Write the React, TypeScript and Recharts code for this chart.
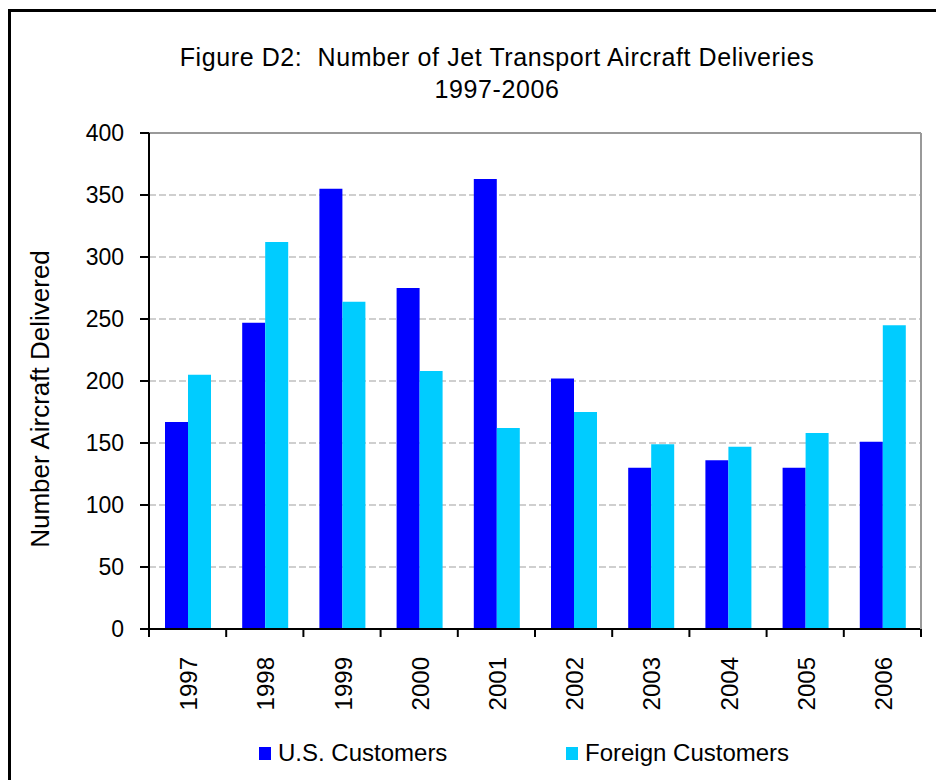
import React from 'react'
import { BarChart, Bar, XAxis, YAxis, CartesianGrid, Legend, ReferenceLine } from 'recharts'

const YEARS = ['1997', '1998', '1999', '2000', '2001', '2002', '2003', '2004', '2005', '2006']
const US_CUSTOMERS = [167, 247, 355, 275, 363, 202, 130, 136, 130, 151]
const FOREIGN_CUSTOMERS = [205, 312, 264, 208, 162, 175, 149, 147, 158, 245]
const Y_TICKS = [0, 50, 100, 150, 200, 250, 300, 350, 400]
const SERIES_NAMES = ['U.S. Customers', 'Foreign Customers']

const data = YEARS.map((year, i) => ({
  year,
  us: US_CUSTOMERS[i],
  foreign: FOREIGN_CUSTOMERS[i],
}))

const FONT = '"Liberation Sans", Arial, sans-serif'
const X_TICK_SIZE = 8
const X_TICK_GAP = 20
const LEGEND_LEFT = [259, 566]

// category ticks sit on band edges, labels rotated in the middle of the band
function YearTick(props: any) {
  const { x, y, payload } = props
  const half = payload.offset ?? 38.6
  const axisY = y - X_TICK_SIZE - X_TICK_GAP
  const last = payload.value === YEARS[YEARS.length - 1]
  return (
    <g>
      <line x1={x - half} x2={x - half} y1={axisY} y2={axisY + X_TICK_SIZE} stroke="#000" strokeWidth={2} />
      {last && (
        <line x1={x + half} x2={x + half} y1={axisY} y2={axisY + X_TICK_SIZE} stroke="#000" strokeWidth={2} />
      )}
      <text
        transform={`translate(${x + 1},${y}) rotate(-90)`}
        textAnchor="end"
        dominantBaseline="central"
        fontSize={24}
        fill="#000"
      >
        {payload.value}
      </text>
    </g>
  )
}

function YLabel(props: any) {
  const { viewBox } = props
  const cx = viewBox.x + 40
  const cy = viewBox.y + viewBox.height / 2 + 18
  return (
    <text
      transform={`translate(${cx},${cy}) rotate(-90)`}
      textAnchor="middle"
      dominantBaseline="central"
      fontSize={26}
      fill="#000"
    >
      Number Aircraft Delivered
    </text>
  )
}

function LegendContent(props: any) {
  const items = [...(props.payload || [])].sort(
    (a: any, b: any) => SERIES_NAMES.indexOf(a.value) - SERIES_NAMES.indexOf(b.value)
  )
  return (
    <div style={{ position: 'relative', height: 30, fontFamily: FONT, fontSize: 24, color: '#000' }}>
      {items.map((item: any, i: number) => (
        <div
          key={item.value}
          style={{ position: 'absolute', left: LEGEND_LEFT[i], top: 0, display: 'flex', alignItems: 'center', whiteSpace: 'nowrap' }}
        >
          <span style={{ display: 'inline-block', width: 12, height: 13, background: item.color, marginRight: 7 }} />
          <span style={{ lineHeight: '30px' }}>{item.value}</span>
        </div>
      ))}
    </div>
  )
}

export default function App() {
  return (
    <div style={{ position: 'relative', width: 936, height: 780, overflow: 'hidden', fontFamily: FONT }}>
      <style>{'body{margin:0;overflow:hidden}'}</style>
      <div
        style={{
          position: 'absolute',
          left: 8,
          top: 9,
          width: 960,
          height: 800,
          borderLeft: '3px solid #000',
          borderTop: '3px solid #000',
        }}
      />
      <div
        style={{
          position: 'absolute',
          left: 0,
          width: 994,
          top: 41,
          textAlign: 'center',
          fontSize: 25,
          lineHeight: '32px',
          letterSpacing: 0.6,
          color: '#000',
        }}
      >
        <div>Figure D2:&nbsp; Number of Jet Transport Aircraft Deliveries</div>
        <div>1997-2006</div>
      </div>
      <div style={{ position: 'absolute', left: 0, top: 0 }}>
        <BarChart
          width={936}
          height={780}
          data={data}
          margin={{ top: 133, right: 0, bottom: 0, left: 0 }}
          barSize={23}
          barGap={0}
          style={{ fontFamily: FONT }}
        >
          <CartesianGrid vertical={false} stroke="#c0c0c0" strokeDasharray="7 3" strokeWidth={1.5} />
          <XAxis
            dataKey="year"
            height={151}
            interval={0}
            tickLine={false}
            tickSize={X_TICK_SIZE}
            tickMargin={X_TICK_GAP}
            axisLine={{ stroke: '#000', strokeWidth: 2 }}
            tick={<YearTick />}
          />
          <YAxis
            width={149}
            domain={[0, 400]}
            ticks={Y_TICKS}
            interval={0}
            tickSize={9}
            tickMargin={16}
            tick={{ fill: '#000', fontSize: 23 }}
            tickLine={{ stroke: '#000', strokeWidth: 2 }}
            axisLine={{ stroke: '#000', strokeWidth: 2 }}
            label={<YLabel />}
          />
          <YAxis
            yAxisId="right"
            orientation="right"
            width={15}
            domain={[0, 400]}
            tick={false}
            tickLine={false}
            axisLine={{ stroke: '#999', strokeWidth: 2 }}
          />
          <ReferenceLine y={400} stroke="#999" strokeWidth={2} />
          <Legend
            layout="horizontal"
            verticalAlign="middle"
            align="center"
            wrapperStyle={{ left: 0, top: 738, width: 936 }}
            content={<LegendContent />}
          />
          <Bar dataKey="us" name={SERIES_NAMES[0]} fill="#0000ff" isAnimationActive={false} />
          <Bar dataKey="foreign" name={SERIES_NAMES[1]} fill="#00ccff" isAnimationActive={false} />
        </BarChart>
      </div>
    </div>
  )
}
